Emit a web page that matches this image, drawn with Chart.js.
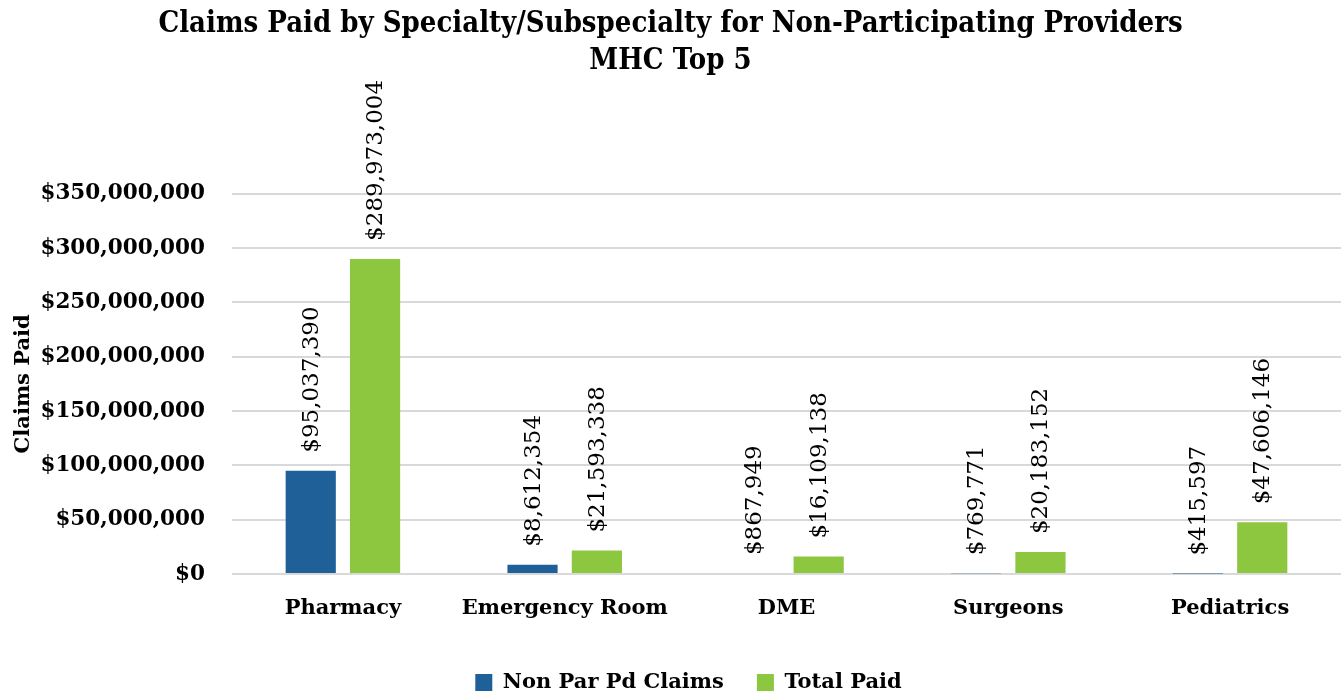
<!DOCTYPE html>
<html>
<head>
<meta charset="utf-8">
<script src="https://cdn.jsdelivr.net/npm/chart.js@4/dist/chart.umd.min.js"></script>
<style>
  html, body { margin: 0; padding: 0; background: #fff; }
  #wrap { width: 1341px; height: 696px; }
</style>
</head>
<body>
<div id="wrap"><canvas id="claims-chart" width="1341" height="696"></canvas></div>
<script>
// Chart data
const categories = ['Pharmacy', 'Emergency Room', 'DME', 'Surgeons', 'Pediatrics'];
const nonParPaid = [95037390, 8612354, 867949, 769771, 415597];
const totalPaid = [289973004, 21593338, 16109138, 20183152, 47606146];
const seriesNames = ['Non Par Pd Claims', 'Total Paid'];
const titleLines = ['Claims Paid by Specialty/Subspecialty for Non-Participating Providers', 'MHC Top 5'];

const serif = '"DejaVu Serif", "Liberation Serif", serif';
const money = function(v) {
    return '$' + Number(v).toLocaleString('en-US');
};

// Vertical value labels above each bar
const barLabels = {
    id: 'barLabels',
    afterDatasetsDraw: function(chart) {
        const ctx = chart.ctx;
        ctx.save();
        ctx.fillStyle = '#000';
        ctx.font = '23px ' + serif;
        ctx.textAlign = 'left';
        ctx.textBaseline = 'middle';
        chart.data.datasets.forEach(function(ds, i) {
            const meta = chart.getDatasetMeta(i);
            meta.data.forEach(function(bar, j) {
                ctx.save();
                ctx.translate(bar.x + 1, bar.y - 18);
                ctx.rotate(-Math.PI / 2);
                ctx.fillText(money(ds.data[j]), 0, 0);
                ctx.restore();
            });
        });
        ctx.restore();
    }
};

// Nudge the legend a little right, as in the original
const legendShift = {
    id: 'legendShift',
    afterLayout: function(chart) {
        if (chart.legend) {
            chart.legend.left += 18;
            chart.legend.right += 18;
        }
    }
};

new Chart(document.getElementById('claims-chart'), {
    type: 'bar',
    data: {
        labels: categories,
        datasets: [
            {
                label: seriesNames[0],
                data: nonParPaid,
                backgroundColor: '#1F6099',
                barPercentage: 0.78,
                categoryPercentage: 0.58
            },
            {
                label: seriesNames[1],
                data: totalPaid,
                backgroundColor: '#8DC63F',
                barPercentage: 0.78,
                categoryPercentage: 0.58
            }
        ]
    },
    options: {
        responsive: false,
        animation: false,
        layout: {
            padding: { top: 0, right: 0, bottom: -7, left: 0 }
        },
        plugins: {
            title: {
                display: true,
                text: titleLines,
                color: '#000',
                font: { family: '"DejaVu Serif Condensed", "DejaVu Serif", serif', size: 29, weight: 'bold', lineHeight: 1.27 },
                padding: { top: 6, bottom: 114 }
            },
            legend: {
                position: 'bottom',
                labels: {
                    color: '#000',
                    font: { family: serif, size: 21, weight: 'bold' },
                    boxWidth: 17,
                    boxHeight: 17,
                    padding: 33
                }
            },
            tooltip: { enabled: false }
        },
        scales: {
            x: {
                grid: { display: false },
                border: { display: false },
                ticks: {
                    color: '#000',
                    font: { family: serif, size: 21, weight: 'bold' },
                    padding: 14,
                    maxRotation: 0
                },
                afterFit: function(scale) {
                    scale.height = 65;
                }
            },
            y: {
                min: 0,
                max: 350000000,
                grid: { color: '#d9d9d9', lineWidth: 2, drawTicks: false },
                border: { display: false },
                ticks: {
                    stepSize: 50000000,
                    color: '#000',
                    font: { family: serif, size: 21.5, weight: 'bold' },
                    padding: 27,
                    callback: function(v) { return money(v); }
                },
                title: {
                    display: true,
                    text: 'Claims Paid',
                    color: '#000',
                    font: { family: serif, size: 21, weight: 'bold' },
                    padding: { top: 11, bottom: 0 }
                },
                afterFit: function(scale) {
                    scale.width = 232;
                }
            }
        }
    },
    plugins: [barLabels, legendShift]
});
</script>
</body>
</html>
